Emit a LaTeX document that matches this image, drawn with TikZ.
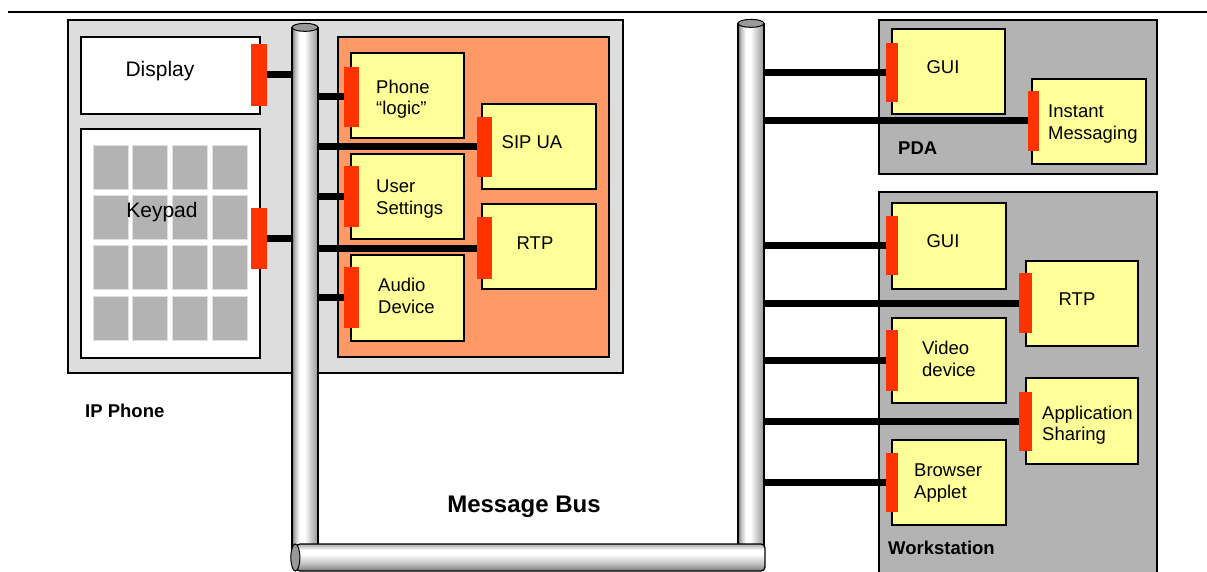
\documentclass[tikz,border=0pt]{standalone}
\usepackage{fontspec}
\setmainfont{Liberation Sans}
\usetikzlibrary{fit}

\definecolor{phonegrey}{HTML}{DDDDDD}
\definecolor{hostgrey}{HTML}{B3B3B3}
\definecolor{coreorange}{HTML}{FF9966}
\definecolor{modyellow}{HTML}{FFFF99}
\definecolor{portred}{HTML}{FF3300}

% tube shadings (TikZ maps the 25bp..75bp band onto the path)
\pgfdeclarehorizontalshading{pipevert}{100bp}{%
  color(0bp)=(black!55); color(25bp)=(black!55); color(31bp)=(black!25);
  color(40bp)=(white); color(49bp)=(white); color(75bp)=(black!42); color(100bp)=(black!42)}
\pgfdeclareverticalshading{pipehorz}{100bp}{%
  color(0bp)=(black!52); color(25bp)=(black!52); color(40bp)=(black!22);
  color(56bp)=(white); color(64bp)=(white); color(75bp)=(black!35); color(100bp)=(black!35)}

\begin{document}
\begin{tikzpicture}[x=1pt,y=-1pt,
  frame/.style={draw=black, line width=1.2pt, inner sep=0pt},
  phonebox/.style={frame, fill=phonegrey},
  host/.style={frame, fill=hostgrey},
  core/.style={frame, fill=coreorange, line width=1.5pt},
  plain/.style={frame, fill=white, line width=1.6pt},
  module/.style={frame, fill=modyellow, line width=1.6pt},
  port/.style={fill=portred, inner sep=0pt},
  key/.style={fill=hostgrey, draw=black!12, line width=0.6pt},
  bus/.style={line width=7pt},
  txt/.style={inner sep=0pt, align=left, font=\fontsize{18.5}{21.5}\selectfont},
  bigtxt/.style={inner sep=0pt, font=\fontsize{21}{24}\selectfont},
  title/.style={inner sep=0pt, font=\bfseries\fontsize{18.5}{21.5}\selectfont},
  pipev/.style={draw=black, line width=1.3pt, inner sep=0pt, shade, shading=pipevert},
  pipeh/.style={draw=black, line width=1.3pt, inner sep=0pt, shade, shading=pipehorz, rounded corners=4pt},
  tubeend/.style={draw=black, line width=1pt, fill=black!40}
]
\useasboundingbox (0,0) rectangle (1207,572);
\clip (0,0) rectangle (1207,572);

% rule along the top
\draw[line width=2pt] (8,12) -- (1207,12);

% ---------------- IP phone ----------------
\node[phonebox, fit={(68,20) (623,373)}] (phone) {};
\node[plain, fit={(81,37) (260,114)}] (display) {};
\node[bigtxt] (displayT) at (160,71) {Display};
\node[plain, fit={(81,129) (260,358)}] (keypad) {};
\foreach \c in {0,...,3}
  \foreach \r in {0,...,3}
    \path[key] ({93+39.67*\c},{145+50.33*\r}) rectangle ++(35,44);
\node[bigtxt] (keypadT) at (162,212) {Keypad};
\node[title, anchor=west] (phoneT) at (85,411) {IP Phone};

\node[core, fit={(338,37) (609,357)}] (core) {};
\node[module, fit={(351,53) (464,138)}] (logic) {};
\node[module, fit={(482,104) (596,189)}] (sip) {};
\node[module, fit={(351,154) (464,239)}] (settings) {};
\node[module, fit={(482,204) (596,289)}] (rtpA) {};
\node[module, fit={(351,255) (464,341)}] (audio) {};

\node[txt, anchor=west] (logicT) at (376,99) {Phone\\“logic”};
\node[txt] (sipT) at (532,142) {SIP UA};
\node[txt, anchor=west] (settingsT) at (376,199) {User\\Settings};
\node[txt] (rtpAT) at (535,243) {RTP};
\node[txt, anchor=west] (audioT) at (378,296) {Audio\\Device};

% ---------------- PDA ----------------
\node[host, fit={(879,20) (1157,174)}] (pda) {};
\node[module, fit={(892,29) (1005,114)}] (guiA) {};
\node[module, fit={(1032,79) (1146,164)}] (im) {};
\node[txt] (guiAT) at (943,67) {GUI};
\node[txt, anchor=west] (imT) at (1048,124) {Instant\\Messaging};
\node[title, anchor=west] (pdaT) at (898,148) {PDA};

% ---------------- Workstation ----------------
\node[host, fit={(879,192) (1157,600)}] (ws) {};
\node[module, fit={(892,203) (1006,289)}] (guiB) {};
\node[module, fit={(1026,261) (1138,346)}] (rtpB) {};
\node[module, fit={(892,318) (1006,403)}] (video) {};
\node[module, fit={(1026,378) (1138,464)}] (share) {};
\node[module, fit={(892,440) (1006,525)}] (applet) {};
\node[txt] (guiBT) at (943,241) {GUI};
\node[txt] (rtpBT) at (1077,299) {RTP};
\node[txt, anchor=west] (videoT) at (922,359) {Video\\device};
\node[txt, anchor=west] (shareT) at (1042,425) {Application\\Sharing};
\node[txt, anchor=west] (appletT) at (914,483) {Browser\\Applet};
\node[title, anchor=west] (wsT) at (888,548) {Workstation};

% ---------------- message bus ----------------
\node[pipev, fit={(292,28) (318,550)}] (lpipe) {};
\node[pipev, fit={(738,24) (764,550)}] (rpipe) {};
\draw[tubeend] (lpipe.north) ellipse [x radius=13, y radius=4];
\draw[tubeend] (rpipe.north) ellipse [x radius=13, y radius=4];
\node[pipeh, fit={(296,544) (765,571)}] (bpipe) {};
\draw[tubeend] (bpipe.west) ellipse [x radius=4.5, y radius=13.5];
\node[inner sep=0pt, font=\bfseries\fontsize{24}{28}\selectfont] (busT) at (524,507) {Message Bus};

% ---------------- ports ----------------
\node[port, fit={(251,44) (267,106)}] (displayP) {};
\node[port, fit={(251,208) (267,269)}] (keypadP) {};
\node[port, fit={(344,67) (359,127)}] (logicP) {};
\node[port, fit={(477,117) (492,177)}] (sipP) {};
\node[port, fit={(344,166) (359,227)}] (settingsP) {};
\node[port, fit={(477,217) (492,279)}] (rtpAP) {};
\node[port, fit={(344,267) (359,328)}] (audioP) {};
\node[port, fit={(886,43) (898,102)}] (guiAP) {};
\node[port, fit={(1028,91) (1039,151)}] (imP) {};
\node[port, fit={(886,216) (898,275)}] (guiBP) {};
\node[port, fit={(1019,273) (1032,333)}] (rtpBP) {};
\node[port, fit={(886,330) (898,391)}] (videoP) {};
\node[port, fit={(1019,392) (1032,451)}] (shareP) {};
\node[port, fit={(886,453) (898,512)}] (appletP) {};

% ---------------- bus attachments ----------------
\draw[bus] (displayP.east) -- (displayP.east -| lpipe.west);
\draw[bus] (keypadP.east) -- (keypadP.east -| lpipe.west);
\foreach \p in {logicP,sipP,settingsP,rtpAP,audioP}
  \draw[bus] (\p.west -| lpipe.east) -- (\p.west);
\foreach \p in {guiAP,imP,guiBP,rtpBP,videoP,shareP,appletP}
  \draw[bus] (\p.west -| rpipe.east) -- (\p.west);
\end{tikzpicture}
\end{document}
